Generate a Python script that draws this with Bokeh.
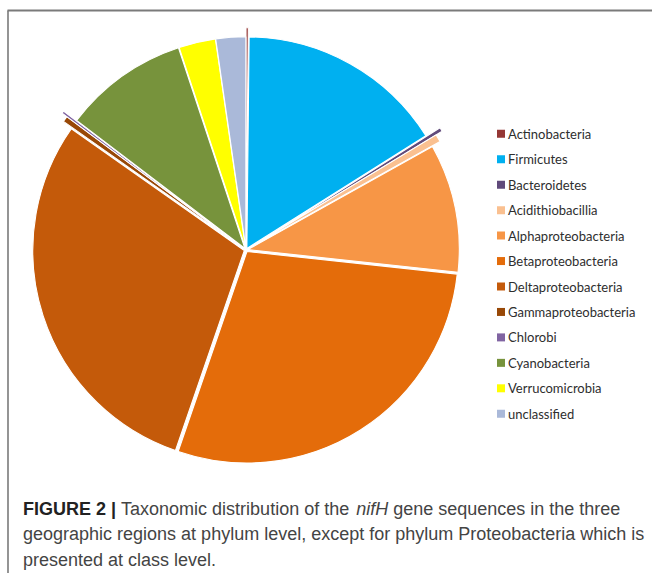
import math
from bokeh.plotting import figure
from bokeh.models import Range1d, ColumnDataSource
from bokeh.embed import file_html
from bokeh.resources import INLINE
from bokeh.core.properties import value

# ---------------- data ----------------
categories = ["Actinobacteria", "Firmicutes", "Bacteroidetes", "Acidithiobacillia",
              "Alphaproteobacteria", "Betaproteobacteria", "Deltaproteobacteria",
              "Gammaproteobacteria", "Chlorobi", "Cyanobacteria", "Verrucomicrobia",
              "unclassified"]
shares = [0.17, 15.89, 0.28, 0.56, 9.81, 28.58, 29.50, 0.42, 0.17, 9.56, 2.81, 2.28]

caption_bold = "FIGURE 2 |"
caption_l1a = "Taxonomic distribution of the"
caption_l1_italic = "nifH"
caption_l1b = "gene sequences in the three"
caption_l2 = "geographic regions at phylum level, except for phylum Proteobacteria which is"
caption_l3 = "presented at class level."

# ---------------- styles ----------------
colors = ["#953735", "#00B0F0", "#604A7B", "#FAC090", "#F79646", "#E46C0A",
          "#C45A0A", "#984807", "#8064A2", "#77933C", "#FFFF00", "#AAB9D9"]
extra_radius = [9, 0, 16, 9, 0, 0, 0, 10, 16, 0, 0, 0]

W, H = 652, 573


def dy(ref_y):
    return H - ref_y


def dx(ref_x):
    return ref_x


cx, cy = dx(245.5), dy(249.5)
R = 211.5
explode = 1.8

p = figure(width=W, height=H, x_range=Range1d(0, W), y_range=Range1d(0, H),
           output_backend="svg", toolbar_location=None, min_border=0,
           x_axis_type=None, y_axis_type=None)
p.grid.visible = False
p.outline_line_color = None
p.background_fill_color = "white"
p.border_fill_color = "white"

# pie
total = sum(shares)
xs, ys, rs, sa, ea = [], [], [], [], []
acc = 0.0
for s, er in zip(shares, extra_radius):
    a0 = acc / total * 2 * math.pi
    acc += s
    a1 = acc / total * 2 * math.pi
    mid = (a0 + a1) / 2
    xs.append(cx + explode * math.sin(mid))
    ys.append(cy + explode * math.cos(mid))
    rs.append(R + er)
    sa.append(math.pi / 2 - a0)
    ea.append(math.pi / 2 - a1)

src = ColumnDataSource(dict(x=xs, y=ys, r=rs, sa=sa, ea=ea, c=colors))
p.wedge(x="x", y="y", radius="r", start_angle="sa", end_angle="ea",
        direction="clock", fill_color="c", line_color="white", line_width=1.1,
        source=src)

# frame lines
p.segment(x0=[dx(7)], y0=[dy(10)], x1=[W + 2], y1=[dy(10)], line_color="#7a7a7a", line_width=2)
p.segment(x0=[dx(7.5)], y0=[dy(10)], x1=[dx(7.5)], y1=[-2], line_color="#7a7a7a", line_width=1.6)

# legend
row0, step = 133.3, 25.45
leg_y = [dy(row0 + i * step) for i in range(len(categories))]
p.rect(x=[dx(500.5)] * len(categories), y=leg_y, width=8, height=8,
       fill_color=colors, line_color=None)
p.text(x=[dx(507.5)] * len(categories), y=leg_y, text=categories,
       text_font=value("Lato"), text_font_size="13px", text_baseline="middle",
       text_align="left", text_color="#2e2e2e")

# caption (Arial / Liberation Sans metrics for laying out the mixed runs)
reg_w = {' ': 278, 'T': 611, 'a': 556, 'b': 556, 'c': 500, 'd': 556, 'e': 556, 'f': 278,
         'g': 556, 'h': 556, 'i': 222, 'm': 833, 'n': 556, 'o': 556, 'q': 556, 'r': 333,
         's': 500, 't': 278, 'u': 556, 'x': 500, 'H': 722}
bold_w = {'F': 611, 'I': 278, 'G': 778, 'U': 722, 'R': 722, 'E': 667, ' ': 278, '2': 556, '|': 280}
FS = 18.0
SPACE = 278 / 1000.0 * FS


def width(txt, table):
    return sum(table.get(ch, 556) for ch in txt) / 1000.0 * FS


x0 = dx(22.5)
b1, b2, b3 = dy(508), dy(533.5), dy(559)
font = value("Liberation Sans")
runs = [(caption_bold, "bold", "#222222", bold_w),
        (caption_l1a, "normal", "#444444", reg_w),
        (caption_l1_italic, "italic", "#444444", reg_w),
        (caption_l1b, "normal", "#444444", reg_w)]
xx = x0
for txt, style, col, tbl in runs:
    p.text(x=[xx], y=[b1], text=[txt], text_font=font, text_font_size="18px",
           text_font_style=style, text_color=col, text_baseline="alphabetic")
    xx += width(txt, tbl) + SPACE
p.text(x=[x0, x0], y=[b2, b3], text=[caption_l2, caption_l3], text_font=font,
       text_font_size="18px", text_color="#444444", text_baseline="alphabetic")

open("out.html", "w").write(file_html(p, INLINE))
